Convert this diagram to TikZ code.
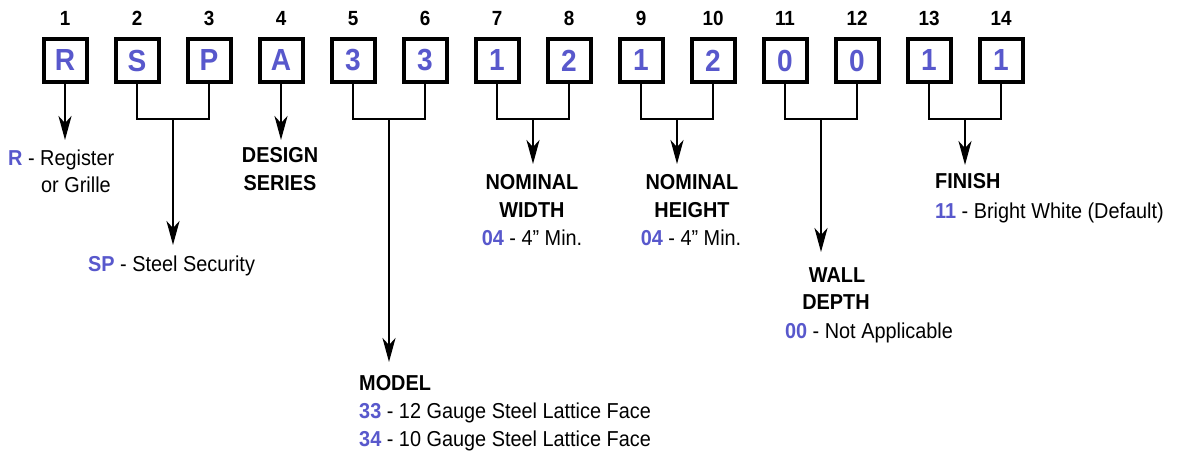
\documentclass[tikz,border=0pt]{standalone}
\usepackage{fontspec}
\setmainfont{Liberation Sans}[FakeStretch=0.92]
\usetikzlibrary{arrows.meta}
\definecolor{codeblue}{RGB}{88,88,204}
\newcommand{\cd}[1]{\textbf{\color{codeblue}#1}}
\begin{document}
\begin{tikzpicture}[x=1pt,y=-1pt,
 digitbox/.style={draw=black,line width=4pt,minimum width=43pt,minimum height=43pt,inner sep=0pt,
   font=\fontsize{30.5}{30.5}\selectfont\bfseries,text=codeblue},
 posnum/.style={font=\fontsize{20.5}{20.5}\selectfont\bfseries,anchor=base,inner sep=0pt},
 lbl/.style={font=\fontsize{21.6}{21.6}\selectfont,inner sep=0pt,anchor=base west},
 lblc/.style={font=\fontsize{21.6}{21.6}\selectfont,inner sep=0pt,anchor=base},
 hd/.style={font=\fontsize{21.6}{21.6}\selectfont\bfseries,inner sep=0pt,anchor=base},
 hdl/.style={font=\fontsize{21.6}{21.6}\selectfont\bfseries,inner sep=0pt,anchor=base west},
 conn/.style={line width=2.5pt,line join=miter},
 arr/.style={line width=2.5pt,-{Stealth[length=24pt,width=13pt,inset=7pt]}}]
\fill[white] (0,0) rectangle (1180,453);
\useasboundingbox (0,0) rectangle (1180,453);

% boxes and position numbers
\foreach \i/\ch in {1/R,2/S,3/P,4/A,5/3,6/3,7/1,8/2,9/1,10/2,11/0,12/0,13/1,14/1}{
  \node[digitbox] (b\i) at ({65+72*(\i-1)},60.5) {\ch};
  \node[posnum] (n\i) at ({65+72*(\i-1)},25) {\i};
}

% junction and end coordinates
\coordinate (c23) at (173,119);
\coordinate (c56) at (389,119);
\coordinate (c78) at (533,119);
\coordinate (c910) at (677,119);
\coordinate (c1112) at (821,119);
\coordinate (c1314) at (965,119);
\coordinate (e1) at (65,140);
\coordinate (e4) at (281,140);
\coordinate (e23) at (173,245);
\coordinate (e56) at (389,362);
\coordinate (e78) at (533,164);
\coordinate (e910) at (677,164);
\coordinate (e1112) at (821,252);
\coordinate (e1314) at (965,165);

% connectors
\draw[arr] (b1.south) -- (e1);
\draw[arr] (b4.south) -- (e4);
\draw[conn] (b2.south) |- (c23) -| (b3.south);
\draw[arr] (c23) -- (e23);
\draw[conn] (b5.south) |- (c56) -| (b6.south);
\draw[arr] (c56) -- (e56);
\draw[conn] (b7.south) |- (c78) -| (b8.south);
\draw[arr] (c78) -- (e78);
\draw[conn] (b9.south) |- (c910) -| (b10.south);
\draw[arr] (c910) -- (e910);
\draw[conn] (b11.south) |- (c1112) -| (b12.south);
\draw[arr] (c1112) -- (e1112);
\draw[conn] (b13.south) |- (c1314) -| (b14.south);
\draw[arr] (c1314) -- (e1314);

% labels
\node[lbl] (r1) at (8,165) {\cd{R} - Register};
\node[lbl] (r2) at (41,192) {or Grille};
\node[hd] (d1) at (280,162) {DESIGN};
\node[hd] (d2) at (280,190) {SERIES};
\node[lbl] (sp) at (88,271) {\cd{SP} - Steel Security};
\node[hdl] (m1) at (359,390) {MODEL};
\node[lbl] (m2) at (359,418) {\cd{33} - 12 Gauge Steel Lattice Face};
\node[lbl] (m3) at (359,446) {\cd{34} - 10 Gauge Steel Lattice Face};
\node[hd] (w1) at (532,189) {NOMINAL};
\node[hd] (w2) at (532,217) {WIDTH};
\node[lblc] (w3) at (532,245) {\cd{04} - 4” Min.};
\node[hd] (h1) at (692,189) {NOMINAL};
\node[hd] (h2) at (692,217) {HEIGHT};
\node[lblc] (h3) at (691,245) {\cd{04} - 4” Min.};
\node[hd] (wd1) at (837,282) {WALL};
\node[hd] (wd2) at (836,309) {DEPTH};
\node[lblc] (wd3) at (869,338) {\cd{00} - Not Applicable};
\node[hdl] (f1) at (935,188) {FINISH};
\node[lbl] (f2) at (935,218) {\cd{11} - Bright White (Default)};
\end{tikzpicture}
\end{document}
